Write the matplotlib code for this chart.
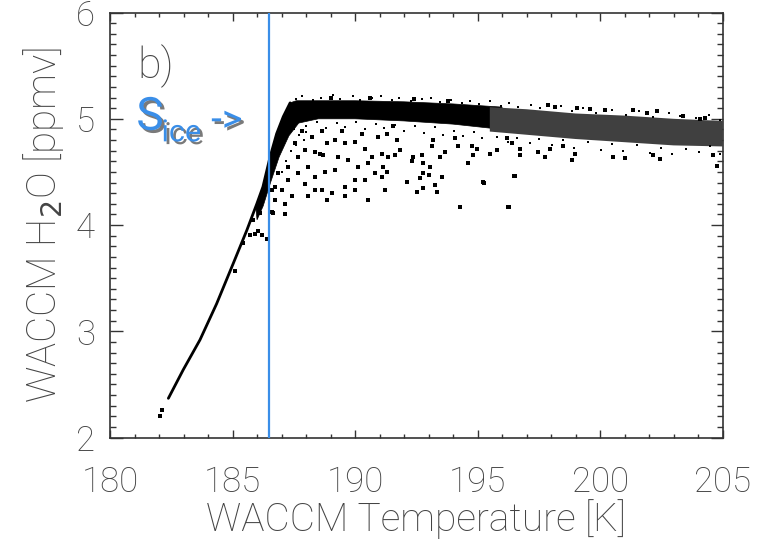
import numpy as np
import matplotlib.pyplot as plt
import matplotlib.patheffects as pe

# WACCM H2O vs temperature

# thin lower branch (ice saturation curve)
curve_t = [182.38, 182.99, 183.67, 184.35, 185.03, 185.58, 185.99, 186.24, 186.53, 186.80, 187.07, 187.35]
curve_h = [2.37, 2.64, 2.92, 3.26, 3.64, 3.95, 4.20, 4.36, 4.64, 4.86, 5.02, 5.15]

# dense core of points (outline of the solid black region)
core_t = [185.95, 186.24, 186.53, 186.80, 187.07, 187.35, 187.6, 188.0, 190.0, 192.0, 194.0, 196.0,
          196.0, 194.0, 192.0, 190.0, 188.5, 187.7, 187.3, 186.9, 186.55, 186.25, 186.0]
core_h = [4.17, 4.36, 4.64, 4.86, 5.02, 5.15, 5.17, 5.17, 5.17, 5.16, 5.14, 5.11,
          4.90, 4.95, 4.98, 5.00, 5.00, 4.96, 4.84, 4.64, 4.40, 4.18, 4.05]

# speckled tail of the band (warm side)
tail_t = [195.5, 197.0, 199.0, 201.0, 203.0, 205.0, 205.0, 203.0, 201.0, 199.0, 197.0, 195.5]
tail_h = [5.11, 5.09, 5.05, 5.03, 5.00, 4.98, 4.74, 4.75, 4.78, 4.81, 4.85, 4.88]

# individual points outside the dense band
pts_t = [182.05, 182.12,
         185.71, 185.92, 186.05, 186.19, 186.40, 185.10, 186.60, 187.14, 185.85, 186.12, 185.44,
         188.37, 188.57, 188.71, 188.84, 189.18, 189.59, 190.00, 190.41, 190.68, 188.09, 187.69,
         187.28, 187.01, 187.14, 186.73, 187.96, 188.64, 189.05, 188.84, 189.59, 190.00, 190.41,
         190.82, 189.18, 188.78, 188.37, 187.41, 187.69, 187.96, 188.23, 187.55, 187.82, 188.64,
         189.46, 190.27, 190.95, 191.09, 189.32, 189.73, 190.14, 190.54, 189.59, 190.00, 190.54,
         188.37, 188.09, 186.73, 186.60, 186.87, 187.28, 186.67,
         191.29, 191.56, 191.70, 191.84, 191.63, 191.36, 191.16, 191.29, 191.09, 191.22, 192.38,
         192.72, 192.31, 192.79, 193.06, 192.79, 193.00, 192.65, 192.11, 193.54, 193.27, 192.79,
         192.52, 193.33, 193.13, 193.47, 193.67, 194.22, 194.76, 194.97, 194.83, 194.62, 195.24,
         195.78, 195.51, 194.29, 196.27, 193.20, 194.08, 196.19, 195.27, 196.50, 196.23,
         196.73, 196.73, 197.48, 197.76, 197.96, 198.98, 198.84, 200.54, 196.53, 196.40, 198.50,
         200.54, 201.02, 202.18, 202.45, 204.62, 204.76, 201.91, 202.31, 201.36, 204.08,
         197.89, 198.16, 199.04, 199.60, 200.20, 203.40, 204.30, 189.00, 190.60, 192.40, 193.80]
pts_h = [2.20, 2.26,
         3.91, 3.92, 3.94, 3.91, 3.87, 3.57, 4.12, 4.10, 4.05, 4.11, 3.83,
         4.69, 4.67, 4.66, 4.77, 4.80, 4.77, 4.78, 4.72, 4.64, 4.55, 4.49,
         4.42, 4.33, 4.20, 4.36, 4.39, 4.33, 4.30, 4.24, 4.36, 4.42, 4.42,
         4.49, 4.52, 4.50, 4.45, 4.27, 4.64, 4.71, 4.83, 4.77, 4.89, 4.89,
         4.89, 4.86, 4.83, 4.67, 4.64, 4.61, 4.55, 4.58, 4.27, 4.33, 4.24,
         4.33, 4.27, 4.24, 4.33, 4.49, 4.55, 4.11,
         4.86, 4.93, 4.80, 4.71, 4.66, 4.64, 4.55, 4.50, 4.45, 4.33, 4.64,
         4.66, 4.60, 4.58, 4.55, 4.49, 4.47, 4.44, 4.41, 4.45, 4.38, 4.35,
         4.31, 4.31, 4.74, 4.64, 4.69, 4.74, 4.74, 4.72, 4.66, 4.58, 4.41,
         4.71, 4.67, 4.17, 4.17, 4.80, 4.82, 4.82, 4.40, 4.46, 4.17,
         4.72, 4.66, 4.69, 4.64, 4.72, 4.67, 4.61, 4.64, 4.46, 4.77, 4.74,
         4.64, 4.63, 4.66, 4.62, 4.66, 4.56, 5.05, 5.07, 5.08, 5.00,
         5.13, 5.11, 5.10, 5.09, 5.08, 5.03, 5.01, 5.20, 5.20, 5.19, 5.17]

# points along the ragged edges of the band
edge_t = [187.6, 187.85, 188.3, 188.6, 189.1, 189.4, 189.9, 190.2, 190.7, 191.05, 191.5, 191.8,
          192.3, 192.75, 193.1, 193.45, 193.9, 194.35, 194.7, 195.05, 195.5, 195.95, 196.3, 196.65,
          197.2, 197.55, 198.4, 198.85, 199.3, 199.85, 200.5, 201.05, 201.6, 202.15, 202.8, 203.25,
          203.9, 204.45, 204.9,
          195.8, 196.25, 196.6, 197.15, 197.5, 198.05, 198.5, 198.95, 199.5, 200.05, 200.5, 200.95,
          201.5, 202.05, 202.5, 202.95, 203.5, 204.05, 204.5, 204.9,
          188.0, 188.45, 188.8, 189.25, 189.6, 190.05, 190.4, 190.85, 191.2, 191.65, 192.0, 192.45,
          192.8, 193.25, 193.6, 194.05, 194.4, 194.85, 195.2,
          187.5, 187.7, 187.9, 187.4, 187.2, 187.0, 187.6, 188.0]
edge_h = [5.19, 5.21, 5.18, 5.20, 5.22, 5.19, 5.21, 5.18, 5.20, 5.21, 5.18, 5.20,
          5.17, 5.19, 5.20, 5.16, 5.18, 5.15, 5.17, 5.14, 5.17, 5.12, 5.15, 5.11,
          5.13, 5.10, 5.12, 5.07, 5.10, 5.05, 5.08, 5.04, 5.07, 5.02, 5.05, 5.03,
          5.01, 5.04, 4.99,
          4.83, 4.78, 4.82, 4.77, 4.81, 4.75, 4.80, 4.73, 4.78, 4.71, 4.76, 4.70,
          4.75, 4.68, 4.73, 4.67, 4.72, 4.69, 4.74, 4.67,
          4.93, 4.97, 4.91, 4.96, 4.92, 4.97, 4.90, 4.95, 4.91, 4.94, 4.89, 4.93,
          4.87, 4.92, 4.85, 4.89, 4.84, 4.88, 4.82,
          4.90, 4.85, 4.80, 4.70, 4.60, 4.50, 4.75, 4.88]

t_ice = 186.5

xticks = [180, 185, 190, 195, 200, 205]
yticks = [2, 3, 4, 5, 6]

plt.rcParams['font.family'] = ['Roboto', 'DejaVu Sans']
txt_col = '#444444'
ice_col = '#3a8ee8'

fig = plt.figure(figsize=(7.59, 5.45), dpi=100)
ax = fig.add_axes([0.145, 0.197, 0.807, 0.780])

ax.fill(core_t, core_h, color='black', lw=0.5, zorder=2)
ax.fill(tail_t, tail_h, color='#404040', lw=0, zorder=2)
ax.plot(curve_t, curve_h, color='black', lw=2.0, solid_capstyle='round', zorder=2)
ax.plot(pts_t, pts_h, 's', color='black', ms=2.2, mew=0, zorder=3)
ax.plot(edge_t, edge_h, 's', color='black', ms=1.8, mew=0, zorder=3)

ax.axvline(t_ice, color=ice_col, lw=1.6, zorder=4)

ax.set_xlim(180, 205)
ax.set_ylim(2, 6)
ax.set_xticks(xticks)
ax.set_yticks(yticks)
ax.set_xticks(np.arange(180, 206, 1), minor=True)
ax.set_yticks(np.arange(2, 6.01, 0.1), minor=True)
ax.tick_params(axis='both', which='both', direction='in', top=True, right=True,
               color='#333333', width=1.0, labelcolor=txt_col, labelsize=25)
ax.tick_params(axis='x', which='major', length=5.5, pad=20)
ax.tick_params(axis='x', which='minor', length=3)
ax.tick_params(axis='y', which='major', length=9, pad=11)
ax.tick_params(axis='y', which='minor', length=4.5)
for sp in ax.spines.values():
    sp.set_color('#333333')
    sp.set_linewidth(1.2)

for lab in ax.get_xticklabels() + ax.get_yticklabels():
    lab.set_fontweight('light')

ax.set_xlabel('WACCM Temperature [K]', fontsize=28, color=txt_col, fontweight='light', labelpad=0)
ax.set_ylabel(r'WACCM H$_2$O [ppmv]', fontsize=29, color=txt_col, fontweight='light', labelpad=7)

ax.text(0.044, 0.846, 'b)', transform=ax.transAxes, fontsize=31, color=txt_col, fontweight='light')

shadow = [pe.withSimplePatchShadow(offset=(2, -2), shadow_rgbFace='#222222', alpha=0.6)]
ax.text(0.043, 0.724, 'S', transform=ax.transAxes, fontsize=33, color=ice_col, path_effects=shadow)
ax.text(0.084, 0.697, 'ice', transform=ax.transAxes, fontsize=22, color=ice_col, path_effects=shadow)
ax.text(0.165, 0.720, '->', transform=ax.transAxes, fontsize=28, color=ice_col, path_effects=shadow)

fig.savefig('out.png', dpi=100)
